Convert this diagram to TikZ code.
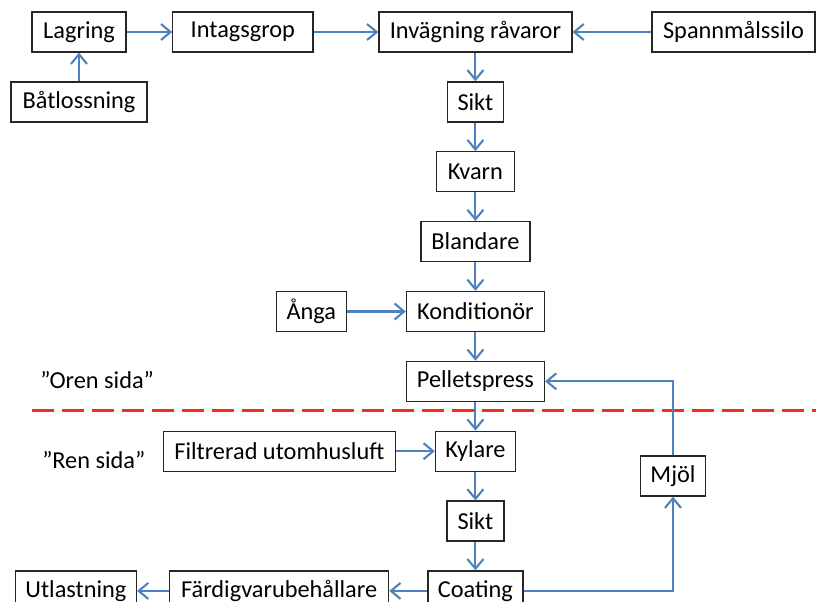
\documentclass[tikz,border=0pt]{standalone}
\usepackage{fontspec}
\setmainfont{Carlito}
\usetikzlibrary{positioning,arrows.meta}
\definecolor{flowblue}{RGB}{79,129,189}
\definecolor{splitred}{RGB}{240,45,30}
\begin{document}
\begin{tikzpicture}[
        node distance=0.715cm,
        stage/.style={rectangle, draw=black!85, line width=0.9pt, minimum height=1cm, inner sep=2pt, align=center, font=\fontsize{17.3}{20}\selectfont},
        flow/.style={draw=flowblue, line width=1.5pt, -{Straight Barb[length=2.4mm,width=4mm]}},
        side/.style={anchor=west, inner sep=0pt, font=\fontsize{17.3}{20}\selectfont}
    ]
        \useasboundingbox (0,0) rectangle (20.4,-15.025);

        % Inmatning
        \node[stage, minimum width=2.35cm] (lagring) at (1.975,-0.8) {Lagring};
        \node[stage, minimum width=3.5cm, right=1.14cm of lagring] (intagsgrop) {Intagsgrop};
        \node[stage, minimum width=4.825cm, right=1.62cm of intagsgrop] (invagning) {Invägning råvaror};
        \node[stage, minimum width=4.075cm, right=1.97cm of invagning] (silo) {Spannmålssilo};
        \node[stage, minimum width=3.4cm, below=0.72cm of lagring] (batlossning) {Båtlossning};

        % Huvudlinje
        \node[stage, minimum width=1.4cm, below=of invagning] (sikt1) {Sikt};
        \node[stage, minimum width=1.95cm, below=of sikt1] (kvarn) {Kvarn};
        \node[stage, minimum width=2.725cm, below=of kvarn] (blandare) {Blandare};
        \node[stage, minimum width=3.45cm, below=of blandare] (konditionor) {Konditionör};
        \node[stage, minimum width=3.45cm, below=of konditionor] (pelletspress) {Pelletspress};
        \node[stage, minimum width=2cm, below=of pelletspress] (kylare) {Kylare};
        \node[stage, minimum width=1.425cm, below=of kylare] (sikt2) {Sikt};
        \node[stage, minimum width=2.375cm, below=of sikt2] (coating) {Coating};

        % Sidoflöden
        \node[stage, minimum width=1.75cm, left=1.47cm of konditionor] (anga) {Ånga};
        \node[stage, minimum width=5.8cm, left=0.97cm of kylare] (luft) {Filtrerad utomhusluft};
        \node[stage, minimum width=5.475cm, left=0.95cm of coating] (behallare) {Färdigvarubehållare};
        \node[stage, minimum width=3.025cm, left=0.8cm of behallare] (utlastning) {Utlastning};
        \node[stage, minimum width=1.625cm] (mjol) at (16.825,-11.9) {Mjöl};

        % Zoner
        \node[side] (oren) at (1.0,-9.5) {”Oren sida”};
        \node[side] (ren) at (1.05,-11.5) {”Ren sida”};
        \coordinate (gransV) at (0.8,-10.25);
        \coordinate (gransH) at (20.4,-10.25);
        \draw[splitred, line width=0.075cm, dash pattern=on 0.55cm off 0.2cm] (gransV) -- (gransH);

        % Flöden
        \draw[flow] (batlossning) -- (lagring);
        \draw[flow] (lagring) -- (intagsgrop);
        \draw[flow] (intagsgrop) -- (invagning);
        \draw[flow] (silo) -- (invagning);
        \draw[flow] (invagning) -- (sikt1);
        \draw[flow] (sikt1) -- (kvarn);
        \draw[flow] (kvarn) -- (blandare);
        \draw[flow] (blandare) -- (konditionor);
        \draw[flow] (anga) -- (konditionor);
        \draw[flow] (konditionor) -- (pelletspress);
        \draw[flow] (pelletspress) -- (kylare);
        \draw[flow] (luft) -- (kylare);
        \draw[flow] (kylare) -- (sikt2);
        \draw[flow] (sikt2) -- (coating);
        \draw[flow] (coating) -- (behallare);
        \draw[flow] (behallare) -- (utlastning);
        \draw[flow] (coating.east) -| (mjol.south);
        \draw[flow] (mjol.north) |- (pelletspress.east);

    \end{tikzpicture}
\end{document}
